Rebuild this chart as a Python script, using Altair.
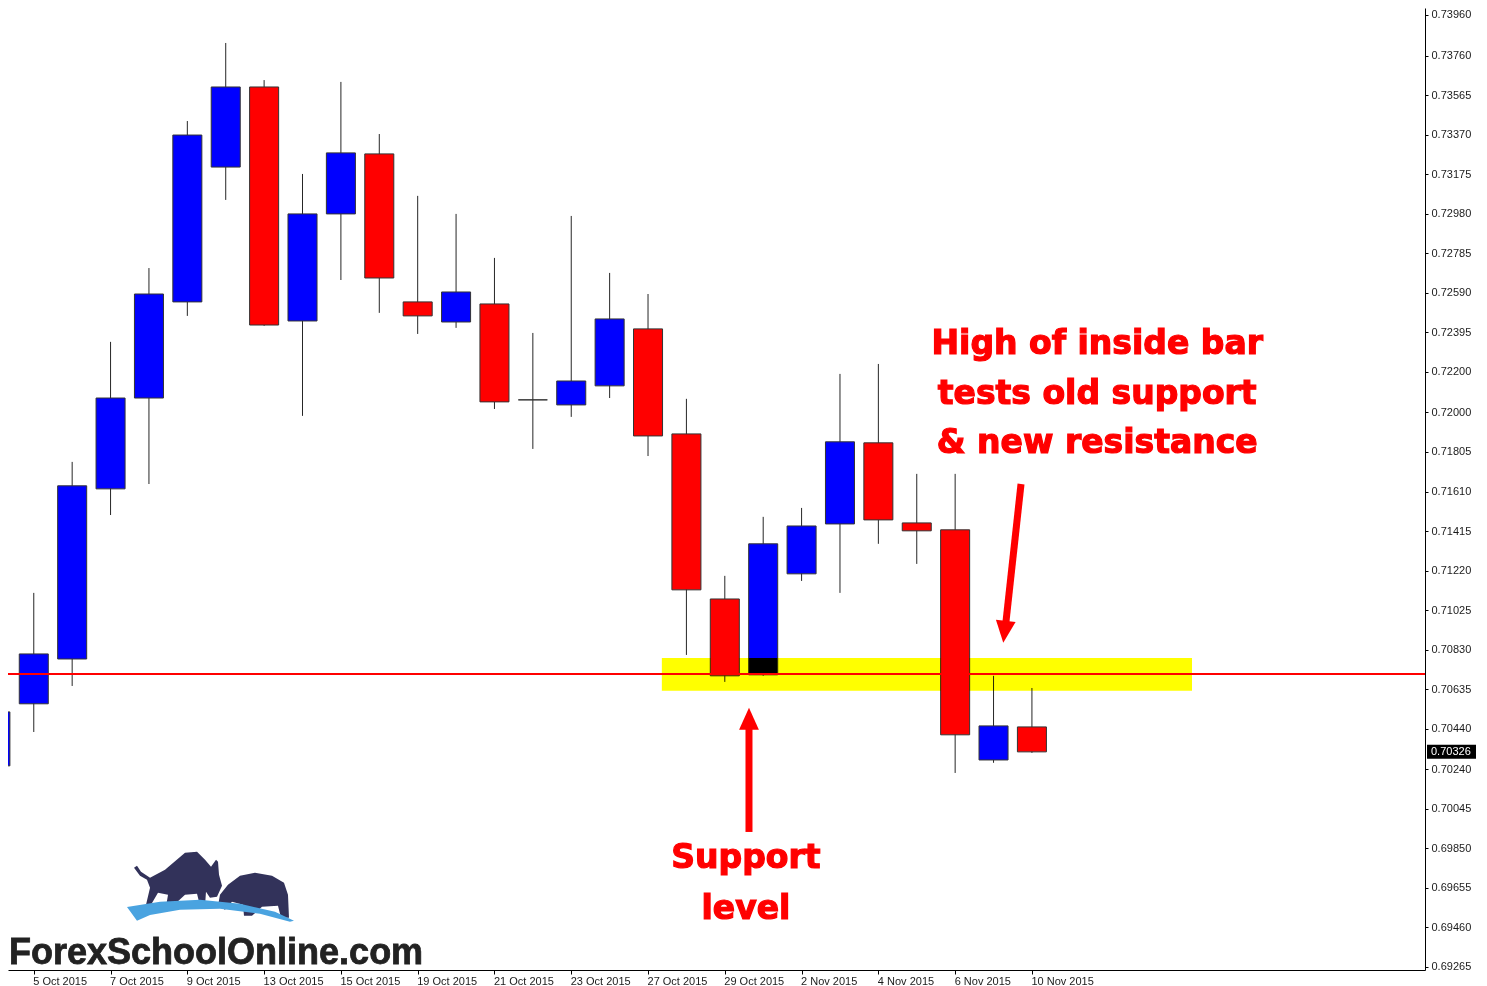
import altair as alt
import pandas as pd

# ---------------- data ----------------
dates = ["1 Oct 2015", "2 Oct 2015", "5 Oct 2015", "6 Oct 2015", "7 Oct 2015", "8 Oct 2015",
         "9 Oct 2015", "12 Oct 2015", "13 Oct 2015", "14 Oct 2015", "15 Oct 2015", "16 Oct 2015",
         "19 Oct 2015", "20 Oct 2015", "21 Oct 2015", "22 Oct 2015", "23 Oct 2015", "26 Oct 2015",
         "27 Oct 2015", "28 Oct 2015", "29 Oct 2015", "30 Oct 2015", "2 Nov 2015", "3 Nov 2015",
         "4 Nov 2015", "5 Nov 2015", "6 Nov 2015", "9 Nov 2015", "10 Nov 2015"]
bar_index = list(range(1, 29))
opens = [0.70257, 0.70563, 0.70784, 0.71623, 0.72071, 0.72545, 0.73210, 0.73605, 0.72451, 0.72979,
         0.73275, 0.72545, 0.72446, 0.72535, 0.72062, 0.72037, 0.72131, 0.72412, 0.71894, 0.71080,
         0.70706, 0.71204, 0.71450, 0.71850, 0.71455, 0.71421, 0.70286, 0.70449]
highs = [0.70582, 0.71110, 0.71756, 0.72348, 0.72712, 0.73437, 0.73822, 0.73639, 0.73176, 0.73630,
         0.73373, 0.73068, 0.72979, 0.72762, 0.72392, 0.72969, 0.72688, 0.72584, 0.72067, 0.71194,
         0.71485, 0.71529, 0.72190, 0.72239, 0.71697, 0.71697, 0.70701, 0.70641]
lows = [0.70212, 0.70424, 0.70651, 0.71494, 0.71647, 0.72476, 0.73048, 0.72427, 0.71983, 0.72653,
        0.72491, 0.72387, 0.72417, 0.72017, 0.71820, 0.71978, 0.72071, 0.71785, 0.70804, 0.70671,
        0.70701, 0.71169, 0.71110, 0.71352, 0.71253, 0.70222, 0.70272, 0.70321]
closes = [0.70523, 0.70809, 0.71638, 0.72071, 0.72584, 0.73368, 0.73605, 0.72431, 0.72979, 0.73280,
          0.72663, 0.72476, 0.72594, 0.72052, 0.72062, 0.72155, 0.72461, 0.71884, 0.71125, 0.70701,
          0.71352, 0.71440, 0.71855, 0.71470, 0.71416, 0.70410, 0.70454, 0.70326]

price_ticks = [0.73960, 0.73760, 0.73565, 0.73370, 0.73175, 0.72980, 0.72785, 0.72590, 0.72395,
               0.72200, 0.72000, 0.71805, 0.71610, 0.71415, 0.71220, 0.71025, 0.70830, 0.70635,
               0.70440, 0.70240, 0.70045, 0.69850, 0.69655, 0.69460, 0.69265]
date_tick_index = list(range(2, 29, 2))

support_level = [0.70710]
band_x = [18.36]
band_x2 = [32.17]
band_lo = [0.70627]
band_hi = [0.70789]

last_price = [0.70326]

ann_text = ["High of inside bar", "tests old support", "& new resistance", "Support", "level"]
ann_x = [29.70, 29.70, 29.70, 20.55, 20.55]
ann_y = [0.72288, 0.72042, 0.71800, 0.69754, 0.69502]

shaft_x = [20.63, 27.716]
shaft_y = [0.69931, 0.71647]
shaft_x2 = [20.63, 27.312]
shaft_y2 = [0.70454, 0.70947]
head_x = [20.63, 27.286]
head_y = [0.70489, 0.70918]
head_angle = [0, 186.5]

logo_text = ["ForexSchoolOnline.com"]
logo_x = [1.33]
logo_y = [0.69280]
logo_shape_x = [5.757, 7.684, 6.590]
logo_shape_y = [0.69695, 0.69616, 0.69532]

# ---------------- frames ----------------
candles = pd.DataFrame({"i": bar_index, "open": opens, "high": highs, "low": lows, "close": closes})
candles["dir"] = ["up" if c > o else "down" for o, c in zip(opens, closes)]

W, H = 1417, 962
xscale = alt.Scale(domain=[1.3285, 38.239], nice=False, zero=False)
yscale = alt.Scale(domain=[0.692502, 0.739945], nice=False, zero=False)

labels_js = "[" + ",".join("'" + d + "'" for d in dates) + "][datum.value]"

xaxis = alt.Axis(values=date_tick_index, labelExpr=labels_js, labelAlign="left", labelOffset=-1,
                 tickSize=4, labelPadding=1, labelFont="Liberation Sans", labelFontSize=11,
                 labelColor="#1a1a1a", tickColor="#000000", domainColor="#000000", title=None,
                 grid=False, labelOverlap=False, labelFlush=False)
yaxis = alt.Axis(orient="right", values=price_ticks, format=".5f", tickSize=3, labelPadding=3,
                 labelFont="Liberation Sans", labelFontSize=11, labelColor="#1a1a1a",
                 tickColor="#000000", domainColor="#000000", title=None, grid=False,
                 labelOverlap=False, labelFlush=False)


def X(f):
    return alt.X(f, scale=xscale, axis=xaxis, title=None)


def Y(f):
    return alt.Y(f, scale=yscale, axis=yaxis, title=None)


wicks = alt.Chart(candles).mark_rule(color="#262626", strokeWidth=1, clip=True).encode(
    x=X("i:Q"), y=Y("low:Q"), y2="high:Q",
)

bodies = alt.Chart(candles).transform_calculate(
    x1="datum.i - 0.378", x2="datum.i + 0.378"
).mark_rect(stroke="#333333", strokeWidth=1, clip=True).encode(
    x=X("x1:Q"), x2="x2:Q", y=Y("open:Q"), y2="close:Q",
    fill=alt.Fill("dir:N", scale=alt.Scale(domain=["up", "down"], range=["#0000ff", "#ff0000"]),
                  legend=None),
)

level = alt.Chart(pd.DataFrame({"lvl": support_level})).mark_rule(
    color="#ff0000", strokeWidth=2
).encode(y=Y("lvl:Q"))

band = alt.Chart(pd.DataFrame({"bx": band_x, "bx2": band_x2, "blo": band_lo, "bhi": band_hi})).mark_rect(
    color="#ffff00", opacity=1, blend="multiply"
).encode(x=X("bx:Q"), x2="bx2:Q", y=Y("blo:Q"), y2="bhi:Q")

shafts = alt.Chart(pd.DataFrame({"sx": shaft_x, "sy": shaft_y, "sx2": shaft_x2, "sy2": shaft_y2})).mark_rule(
    color="#ff0000", strokeWidth=7
).encode(x=X("sx:Q"), y=Y("sy:Q"), x2="sx2:Q", y2="sy2:Q")

heads = alt.Chart(pd.DataFrame({"hx": head_x, "hy": head_y, "ha": head_angle})).mark_point(
    shape="M0,-1L-0.9,1L0.9,1Z", filled=True, size=484, color="#ff0000", opacity=1, strokeWidth=0
).encode(x=X("hx:Q"), y=Y("hy:Q"), angle=alt.Angle("ha:Q", scale=None))

notes = alt.Chart(pd.DataFrame({"t": ann_text, "ax": ann_x, "ay": ann_y})).mark_text(
    font="DejaVu Sans", fontWeight="bold", fontSize=33, color="#ff0000", stroke="#ff0000",
    strokeWidth=1.2, align="center", baseline="alphabetic"
).encode(x=X("ax:Q"), y=Y("ay:Q"), text="t:N")

logo_df = pd.DataFrame({
    "lx": logo_shape_x,
    "ly": logo_shape_y,
    "shape": [
        # bull
        "M-1,-0.273L-0.932,-0.318L-0.841,-0.182L-0.636,-0.045L-0.295,-0.227L0.159,-0.614L0.432,-0.636"
        "L0.614,-0.455L0.75,-0.295L0.864,-0.455L0.909,-0.409L0.932,-0.114L1,0.136L0.886,0.386L0.727,0.409"
        "L0.636,0.273L0.614,0.591L0.5,0.591L0.432,0.318L0.159,0.341L-0.136,0.614L-0.273,0.614L-0.227,0.341"
        "L-0.455,0.295L-0.614,0.568L-0.727,0.568L-0.636,0.182L-0.705,0L-0.864,-0.091Z",
        # bear
        "M-0.944,0.278L-0.889,-0.028L-0.667,-0.306L-0.333,-0.556L0.083,-0.639L0.556,-0.556L0.889,-0.361"
        "L1,-0.028L1.028,0.611L0.806,0.611L0.722,0.278L0.278,0.306L0,0.556L-0.222,0.556L-0.25,0.25"
        "L-0.556,0.167L-0.75,0.389Z",
        # swoosh
        "M-0.988,-0.071L-0.595,-0.131L-0.119,-0.155L0.357,-0.107L0.774,-0.012L1,0.095L0.952,0.107"
        "L0.595,0.012L0.119,-0.048L-0.357,-0.036L-0.714,0.024L-0.869,0.095Z",
    ],
    "col": ["#32325a", "#32325a", "#4aa3e0"],
    "sz": [7744, 5184, 28224],
})
logo_shapes = alt.Chart(logo_df).mark_point(filled=True, opacity=1, strokeWidth=0).encode(
    x=X("lx:Q"), y=Y("ly:Q"),
    shape=alt.Shape("shape:N", scale=None), color=alt.Color("col:N", scale=None),
    size=alt.Size("sz:Q", scale=None),
)

logo = alt.Chart(pd.DataFrame({"t": logo_text, "lx": logo_x, "ly": logo_y})).mark_text(
    font="Liberation Sans", fontWeight="bold", fontSize=36, color="#222222", stroke="#222222",
    strokeWidth=0.8, align="left", baseline="alphabetic", dx=1
).encode(x=X("lx:Q"), y=Y("ly:Q"), text="t:N")

lp = pd.DataFrame({"p": last_price, "t": ["%.5f" % v for v in last_price]})
price_box = alt.Chart(lp).mark_rect(color="#000000", yOffset=-7, y2Offset=7).encode(
    x=alt.value(W + 2), x2=alt.value(W + 51), y=Y("p:Q"), y2="p:Q"
)
price_txt = alt.Chart(lp).mark_text(
    font="Liberation Sans", fontSize=11, color="#ffffff", align="left", baseline="middle"
).encode(x=alt.value(W + 6), y=Y("p:Q"), text="t:N")

chart = alt.layer(
    wicks, bodies, level, band, shafts, heads, notes, logo_shapes, logo, price_box, price_txt
).properties(
    width=W, height=H,
    autosize=alt.AutoSizeParams(type="none"),
    padding={"left": 0, "top": 0, "right": 52, "bottom": 16},
    background="#ffffff",
).configure_view(stroke=None)

chart.save("out.html", embed_options={"renderer": "svg", "actions": False})
